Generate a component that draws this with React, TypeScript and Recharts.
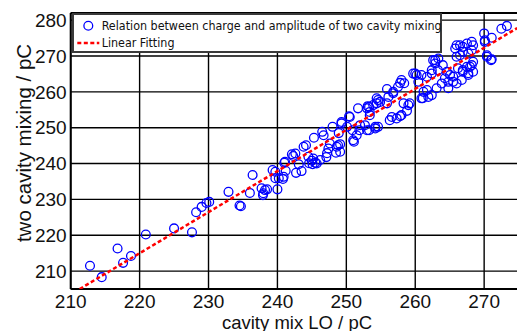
import React from 'react';
import { ScatterChart, Scatter, XAxis, YAxis, CartesianGrid, Legend, ReferenceLine } from 'recharts';

const xTicks = [210, 220, 230, 240, 250, 260, 270];
const yTicks = [210, 220, 230, 240, 250, 260, 270, 280];
const seriesNames = ['Relation between charge and amplitude of two cavity mixing', 'Linear Fitting'];

const chargeLO = [
  212.8, 214.5, 216.8, 217.6, 218.75, 220.9, 225.0, 227.6, 228.2, 229.0, 229.7, 230.1, 232.9, 234.5, 234.7,
  236.4, 236.0, 237.7, 238.2, 237.95, 238.5, 237.9, 239.3, 239.7, 239.7, 240.0, 240.2, 240.8, 240.9, 241.2,
  241.0, 241.1, 242.1, 242.3, 242.6, 243.1, 242.7, 243.5, 243.8, 244.15, 244.5, 244.6, 245.0, 245.1, 245.5,
  245.7, 245.2, 245.3, 246.5, 246.7, 247.1, 247.2, 246.2, 247.4, 247.6, 248.0, 248.5, 248.9, 248.6, 248.8,
  249.1, 249.1, 249.3, 249.3, 250.1, 250.4, 250.5, 250.9, 251.1, 251.0, 251.5, 251.9, 251.7, 252.0, 252.7,
  253.0, 253.3, 253.4, 253.4, 253.0, 253.1, 253.3, 253.9, 254.4, 254.4, 254.6, 254.9, 254.2, 254.2, 254.6,
  255.9, 255.9, 256.1, 256.8, 256.8, 256.6, 256.3, 257.3, 258.0, 257.8, 258.8, 258.3, 259.0, 259.2, 257.5,
  257.8, 258.0, 258.4, 259.7, 260.2, 260.9, 260.45, 260.0, 261.7, 261.2, 261.7, 261.9, 260.9, 261.1, 262.4,
  262.4, 262.6, 262.9, 262.9, 263.35, 263.85, 263.1, 262.4, 263.3, 264.0, 264.6, 264.3, 264.8, 264.8, 265.05,
  265.5, 265.5, 266.0, 266.75, 266.2, 266.9, 266.9, 267.5, 267.95, 267.7, 267.7, 268.2, 268.4, 268.4, 266.0,
  265.8, 266.5, 266.0, 266.9, 266.5, 266.9, 267.5, 267.7, 268.2, 268.2, 268.4, 270.4, 270.4, 271.0, 271.1,
  270.1, 270.0, 270.1, 271.1, 272.5, 273.3,
];

const twoCavity = [
  211.5, 208.3, 216.3, 212.3, 214.2, 220.2, 221.9, 220.8, 226.4, 227.9, 229.0, 229.3, 232.1, 228.3, 228.1,
  236.8, 231.8, 233.1, 232.6, 231.7, 232.8, 231.2, 238.2, 237.7, 235.9, 232.8, 235.9, 235.7, 236.3, 238.0,
  240.2, 240.5, 242.6, 242.1, 242.8, 239.8, 237.4, 237.9, 244.7, 245.1, 241.9, 240.1, 240.8, 239.8, 240.2,
  240.0, 241.4, 247.2, 248.85, 247.9, 241.8, 242.9, 241.0, 244.2, 245.6, 250.25, 243.0, 248.5, 244.7, 245.1,
  243.3, 245.4, 251.2, 251.6, 250.25, 253.2, 253.0, 249.3, 246.1, 246.5, 247.9, 249.3, 255.4, 250.7, 250.7,
  249.3, 249.3, 253.5, 254.4, 255.4, 256.0, 255.8, 256.3, 256.8, 258.2, 257.7, 257.2, 250.25, 249.8, 250.25,
  256.8, 260.8, 258.6, 259.6, 260.0, 253.0, 252.1, 252.6, 253.5, 253.2, 254.7, 256.8, 256.3, 256.8, 261.4,
  262.5, 263.3, 262.4, 265.1, 264.7, 264.7, 262.8, 265.1, 264.2, 260.0, 260.5, 258.6, 258.2, 258.25, 259.1,
  265.1, 268.85, 267.9, 268.85, 269.3, 262.35, 261.0, 266.05, 266.05, 267.45, 265.6, 263.8, 262.8, 261.0, 264.7,
  264.2, 262.8, 262.35, 263.3, 266.6, 266.05, 265.6, 267.0, 267.0, 265.2, 264.7, 267.45, 265.6, 268.4, 269.8,
  272.1, 273.0, 273.0, 272.55, 270.2, 271.2, 273.5, 270.7, 273.95, 271.6, 273.0, 270.2, 269.8, 268.85, 269.1,
  273.95, 276.3, 274.4, 275.1, 277.6, 278.4,
];

const fitX = [211.3, 274.8];
const fitY = [205.0, 277.8];

const measured = chargeLO.map((x, i) => ({ x, y: twoCavity[i] }));
const fitted = fitX.map((x, i) => ({ x, y: fitY[i] }));

const FONT = "'Liberation Sans', Arial, Helvetica, sans-serif";
const LEGEND_FONT = "'DejaVu Sans Condensed', 'Liberation Sans', Arial, sans-serif";
const BLUE = '#0000ff';
const RED = '#ff0000';

const Ring = (props: any) => (
  <circle cx={props.cx} cy={props.cy} r={4.4} fill="none" stroke={BLUE} strokeWidth={1.3} />
);
const NoDot = () => <g />;

const LegendBox = () => (
  <div
    style={{
      boxSizing: 'border-box',
      width: 370,
      height: 40,
      border: '2px solid #3a3a3a',
      background: '#fff',
      position: 'relative',
      fontFamily: LEGEND_FONT,
      fontSize: 12.4,
      color: '#111',
    }}
  >
    <svg style={{ position: 'absolute', left: 0, top: 0 }} width={366} height={36}>
      <circle cx={14.3} cy={10.7} r={4.4} fill="none" stroke={BLUE} strokeWidth={1.3} />
      <line x1={3.3} x2={25.3} y1={28} y2={28} stroke={RED} strokeWidth={2.5} strokeDasharray="4 2.5" />
    </svg>
    <div style={{ position: 'absolute', left: 28, top: 2.7, lineHeight: '16px', whiteSpace: 'nowrap' }}>
      {seriesNames[0]}
    </div>
    <div style={{ position: 'absolute', left: 28, top: 20, lineHeight: '16px', whiteSpace: 'nowrap' }}>
      {seriesNames[1]}
    </div>
  </div>
);

const YTitle = () => (
  <text
    x={23}
    y={143}
    transform="rotate(-90 23 143)"
    textAnchor="middle"
    dominantBaseline="central"
    fontFamily={FONT}
    fontSize={20.5}
    fill="#111"
  >
    two cavity mixing / pC
  </text>
);

const XTitle = () => (
  <text x={297} y={322} textAnchor="middle" dominantBaseline="central" fontFamily={FONT} fontSize={18.5} fill="#111">
    cavity mix LO / pC
  </text>
);

export default function App() {
  return (
    <div style={{ position: 'absolute', left: 0, top: 0, width: 517, height: 331, overflow: 'hidden', background: '#fff' }}>
      <ScatterChart width={522} height={331} margin={{ top: 13, right: 3.4, bottom: 0, left: 0 }}>
        <CartesianGrid stroke="#000" strokeWidth={1.4} />
        <XAxis
          dataKey="x"
          type="number"
          domain={[210, 275]}
          ticks={xTicks}
          allowDataOverflow
          height={42}
          tickSize={0}
          tickMargin={6}
          axisLine={{ stroke: '#000', strokeWidth: 2 }}
          tick={{ fill: '#111', fontSize: 19, fontFamily: FONT }}
          label={() => <XTitle />}
        />
        <YAxis
          dataKey="y"
          type="number"
          domain={[205, 282]}
          ticks={yTicks}
          allowDataOverflow
          width={70.7}
          tickSize={0}
          tickMargin={4}
          axisLine={{ stroke: '#000', strokeWidth: 2 }}
          tick={{ fill: '#111', fontSize: 19, fontFamily: FONT }}
          label={() => <YTitle />}
        />
        <ReferenceLine y={282} stroke="#000" strokeWidth={2} />
        <ReferenceLine x={275} stroke="#000" strokeWidth={2} />
        <Scatter name={seriesNames[0]} data={measured} shape={Ring} isAnimationActive={false} />
        <Scatter
          name={seriesNames[1]}
          data={fitted}
          shape={NoDot}
          line={{ stroke: RED, strokeWidth: 2.5, strokeDasharray: '4 2.5' }}
          isAnimationActive={false}
        />
        <Legend
          layout="vertical"
          align="center"
          verticalAlign="middle"
          content={() => <LegendBox />}
          wrapperStyle={{ position: 'absolute', left: 71.7, top: 13, width: 370, height: 40 }}
        />
      </ScatterChart>
    </div>
  );
}
